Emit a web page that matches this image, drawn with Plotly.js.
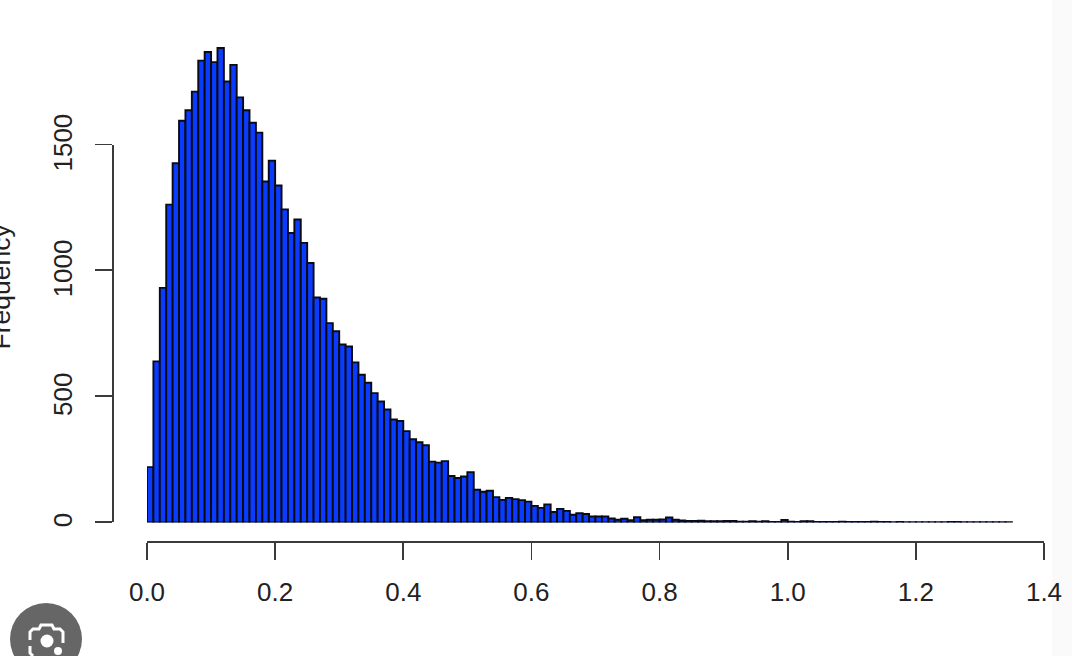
<!DOCTYPE html>
<html>
<head>
<meta charset="utf-8">
<script src="https://cdn.plot.ly/plotly-3.0.1.min.js"></script>
<style>
html, body { margin: 0; padding: 0; background: #fff; overflow: hidden; }
</style>
</head>
<body>
<div id="chart" style="width:1072px;height:656px"></div>
<script>
// bin counts, one per 0.01 wide bin starting at 0
const counts = [
    220, 640, 932, 1263, 1427, 1596, 1638, 1712, 1835, 1869,
    1829, 1885, 1752, 1818, 1689, 1638, 1588, 1549, 1355, 1437,
    1339, 1244, 1150, 1204, 1111, 1031, 894, 889, 792, 760,
    707, 699, 636, 587, 555, 514, 481, 449, 409, 403,
    363, 331, 319, 307, 242, 238, 244, 185, 177, 183,
    200, 130, 122, 126, 101, 90, 98, 93, 89, 83,
    66, 58, 72, 42, 54, 46, 31, 37, 34, 24,
    24, 24, 16, 11, 15, 9, 21, 9, 11, 11,
    12, 20, 11, 8, 6, 6, 7, 5, 5, 5,
    6, 6, 3, 3, 5, 3, 5, 2, 2, 10,
    3, 2, 5, 5, 2, 2, 2, 2, 3, 2,
    2, 2, 2, 3, 2, 2, 1, 2, 1, 1,
    1, 1, 1, 1, 1, 2, 2, 1, 1, 1,
    1, 1, 1, 1, 1,
];
const xTicks = [0, 0.2, 0.4, 0.6, 0.8, 1, 1.2, 1.4];
const xTickLabels = ['0.0', '0.2', '0.4', '0.6', '0.8', '1.0', '1.2', '1.4'];
const yTicks = [0, 500, 1000, 1500];
const yTickLabels = ['0', '500', '1000', '1500'];
const yLabel = 'Frequency';

const W = 1072;
const H = 656;
const FONT = 'Liberation Sans, Arial, sans-serif';
const axisColor = '#3a3a3a';

// page pixels to paper fractions
const px = (x) => x / W;
const py = (y) => 1 - y / H;

const axisStyle = {
    showgrid: false,
    zeroline: false,
    showline: true,
    linecolor: axisColor,
    linewidth: 1.8,
    ticks: 'outside',
    ticklen: 17,
    tickwidth: 1.8,
    tickcolor: axisColor,
    tickfont: { family: FONT, size: 26, color: '#222222' },
    tickmode: 'array',
};

const lensPath = (d) => d.map(([x, y], i) => `${i ? 'L' : 'M'}${px(x)},${py(y)}`).join(' ');

const data = [
    {
        type: 'bar',
        x0: 0.005,
        dx: 0.01,
        y: counts,
        width: 0.01,
        marker: { color: '#0a3cff', line: { color: '#0a0a14', width: 1.9 } },
        hoverinfo: 'skip',
    },
    // only here so that the short left axis gets drawn
    { type: 'scatter', mode: 'none', x: [0], y: [0], yaxis: 'y2', hoverinfo: 'skip' },
];

const layout = {
    width: W,
    height: H,
    margin: { t: 0, r: 0, b: 0, l: 0 },
    paper_bgcolor: '#ffffff',
    plot_bgcolor: 'rgba(0,0,0,0)',
    showlegend: false,
    xaxis: Object.assign({}, axisStyle, {
        domain: [px(147), px(1044)],
        range: [0, 1.4],
        anchor: 'free',
        position: py(541),
        tickvals: xTicks,
        ticktext: xTickLabels,
        ticklabelstandoff: 10,
    }),
    yaxis: {
        domain: [py(522.5), 1],
        range: [0, 522.5 / 0.2517],
        visible: false,
    },
    yaxis2: Object.assign({}, axisStyle, {
        domain: [py(522), py(144.5)],
        range: [0, 1500],
        anchor: 'free',
        position: px(112),
        tickvals: yTicks,
        ticktext: yTickLabels,
        tickangle: -90,
        ticklabelstandoff: 13,
        ticklabelshift: 2,
    }),
    annotations: [
        {
            text: yLabel,
            xref: 'paper',
            yref: 'paper',
            x: px(0),
            y: py(286.5),
            textangle: -90,
            showarrow: false,
            xanchor: 'center',
            yanchor: 'middle',
            font: { family: FONT, size: 26.5, color: '#222222' },
        },
    ],
    shapes: [
        // pale strip down the right edge of the screenshot
        { type: 'rect', xref: 'paper', yref: 'paper', x0: px(1052), x1: 1, y0: 0, y1: 1, fillcolor: '#fafafa', line: { width: 0 }, layer: 'below' },
        // lens badge, bottom left
        { type: 'circle', xref: 'paper', yref: 'paper', x0: px(10), x1: px(82), y0: py(675), y1: py(603), fillcolor: '#666666', line: { width: 0 } },
        {
            type: 'path', xref: 'paper', yref: 'paper',
            path: lensPath([[30, 640], [30, 632], [33, 629], [39, 629], [41, 625], [52, 625], [54, 629], [60, 629], [63, 632], [63, 643]]),
            line: { color: '#ffffff', width: 3 },
        },
        {
            type: 'path', xref: 'paper', yref: 'paper',
            path: lensPath([[30, 646], [30, 653], [33, 656]]),
            line: { color: '#ffffff', width: 3 },
        },
        { type: 'circle', xref: 'paper', yref: 'paper', x0: px(40.5), x1: px(53.5), y0: py(647.5), y1: py(634.5), fillcolor: '#ffffff', line: { width: 0 } },
        { type: 'circle', xref: 'paper', yref: 'paper', x0: px(54), x1: px(62), y0: py(655), y1: py(647), fillcolor: '#ffffff', line: { width: 0 } },
    ],
};

Plotly.newPlot('chart', data, layout, { displayModeBar: false, staticPlot: true });
</script>
</body>
</html>
